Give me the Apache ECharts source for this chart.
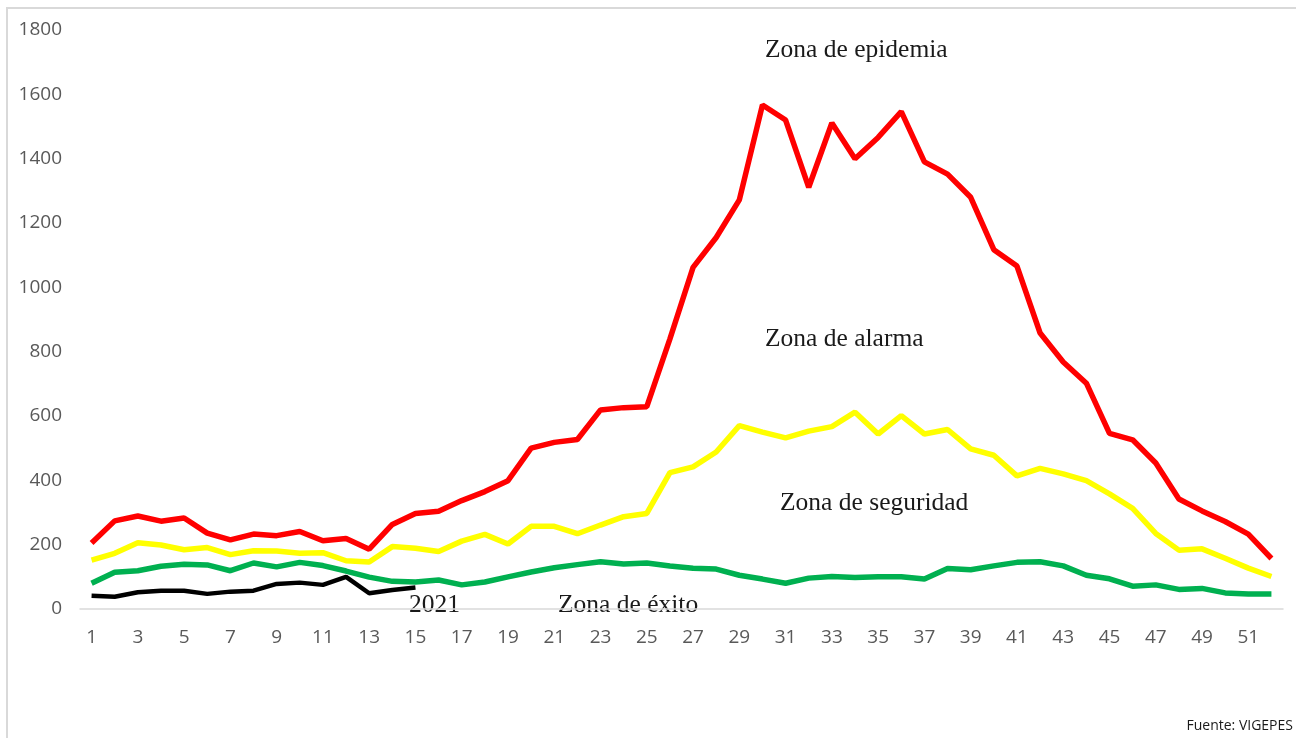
<!DOCTYPE html>
<html style="height: 100%">
<head>
	<meta charset="UTF-8">
	<title>Canal endémico</title>
	<script src="https://cdn.jsdelivr.net/npm/echarts@6/dist/echarts.min.js"></script>
</head>
<body style="height:100%; margin: 0; background-color:#ffffff">
<div id="main" style="height: 738px; width: 1296px;"></div>
<script type="text/javascript">
	// semanas epidemiológicas
	var semanas = [];
	for (var i = 1; i <= 52; i++) { semanas.push(String(i)); }

	var epidemia = [205, 274, 289, 273, 283, 236, 215, 233, 228, 241, 212, 219, 186, 263, 297,
		304, 337, 365, 399, 500, 518, 527, 619, 626, 629, 840, 1062, 1155, 1272, 1567,
		1520, 1311, 1511, 1400, 1466, 1546, 1390, 1352, 1280, 1117, 1066, 858, 768, 702, 546,
		526, 454, 342, 305, 272, 233, 157];
	var alarma = [152, 173, 206, 199, 184, 191, 169, 181, 180, 173, 175, 150, 146, 194, 189,
		179, 211, 232, 202, 257, 257, 234, 261, 287, 297, 424, 442, 488, 570, 550,
		532, 553, 567, 612, 544, 601, 544, 558, 498, 478, 414, 437, 420, 399, 358,
		313, 235, 183, 187, 158, 127, 101];
	var exito = [80, 114, 119, 133, 139, 137, 119, 143, 131, 145, 135, 118, 99, 86, 84,
		90, 75, 84, 100, 115, 128, 138, 147, 140, 143, 134, 127, 124, 105, 93,
		80, 96, 101, 98, 100, 100, 93, 126, 122, 134, 145, 147, 134, 105, 94,
		71, 75, 61, 64, 50, 47, 47];
	var casos2021 = [41, 38, 52, 57, 57, 47, 54, 57, 78, 82, 75, 100, 49, 59, 67];

	var myChart = echarts.init(document.getElementById('main'));

	var zonaFont = {
		fontFamily: '"Liberation Serif", "DejaVu Serif", serif',
		fontSize: 25.5,
		fill: '#1a1a1a'
	};

	option = {
		animation: false,
		grid: {
			left: 80,
			right: 13,
			top: 30,
			bottom: 129
		},
		xAxis: {
			type: 'category',
			data: semanas,
			boundaryGap: true,
			axisTick: { show: false },
			axisLine: { lineStyle: { color: '#d9d9d9', width: 1.5 } },
			axisLabel: {
				interval: 1,
				color: '#595959',
				fontSize: 19,
				fontFamily: '"Open Sans", sans-serif',
				margin: 19
			}
		},
		yAxis: {
			type: 'value',
			min: 0,
			max: 1800,
			interval: 200,
			splitLine: { show: false },
			axisLine: { show: false },
			axisTick: { show: false },
			axisLabel: {
				color: '#595959',
				fontSize: 19,
				fontFamily: '"Open Sans", sans-serif',
				margin: 18,
				formatter: function (v) { return String(v); }
			}
		},
		series: [{
				name: 'Zona de epidemia',
				type: 'line',
				data: epidemia,
				showSymbol: false,
				lineStyle: { color: '#ff0000', width: 5.5 },
				itemStyle: { color: '#ff0000' }
			},
			{
				name: 'Zona de alarma',
				type: 'line',
				data: alarma,
				showSymbol: false,
				lineStyle: { color: '#ffff00', width: 5.5 },
				itemStyle: { color: '#ffff00' }
			},
			{
				name: 'Zona de seguridad',
				type: 'line',
				data: exito,
				showSymbol: false,
				lineStyle: { color: '#00b050', width: 5.5 },
				itemStyle: { color: '#00b050' }
			},
			{
				name: '2021',
				type: 'line',
				data: casos2021,
				showSymbol: false,
				lineStyle: { color: '#000000', width: 4.5 },
				itemStyle: { color: '#000000' }
			}
		],
		graphic: [
			// marco del gráfico
			{ type: 'rect', shape: { x: 7, y: 8, width: 1300, height: 740 },
				style: { fill: 'none', stroke: '#d9d9d9', lineWidth: 2 }, silent: true },
			{ type: 'text', left: 765, top: 37, style: Object.assign({ text: 'Zona de epidemia' }, zonaFont) },
			{ type: 'text', left: 765, top: 326, style: Object.assign({ text: 'Zona de alarma' }, zonaFont) },
			{ type: 'text', left: 780, top: 490, style: Object.assign({ text: 'Zona de seguridad' }, zonaFont) },
			{ type: 'text', left: 558, top: 592, style: Object.assign({ text: 'Zona de éxito' }, zonaFont) },
			{ type: 'text', left: 409, top: 592, style: Object.assign({ text: '2021' }, zonaFont) },
			{ type: 'text', right: 3, top: 719, style: {
				text: 'Fuente: VIGEPES',
				fontFamily: '"Open Sans", sans-serif',
				fontSize: 14,
				fill: '#1a1a1a'
			} }
		]
	};
	myChart.setOption(option);
</script>
</body>
</html>
